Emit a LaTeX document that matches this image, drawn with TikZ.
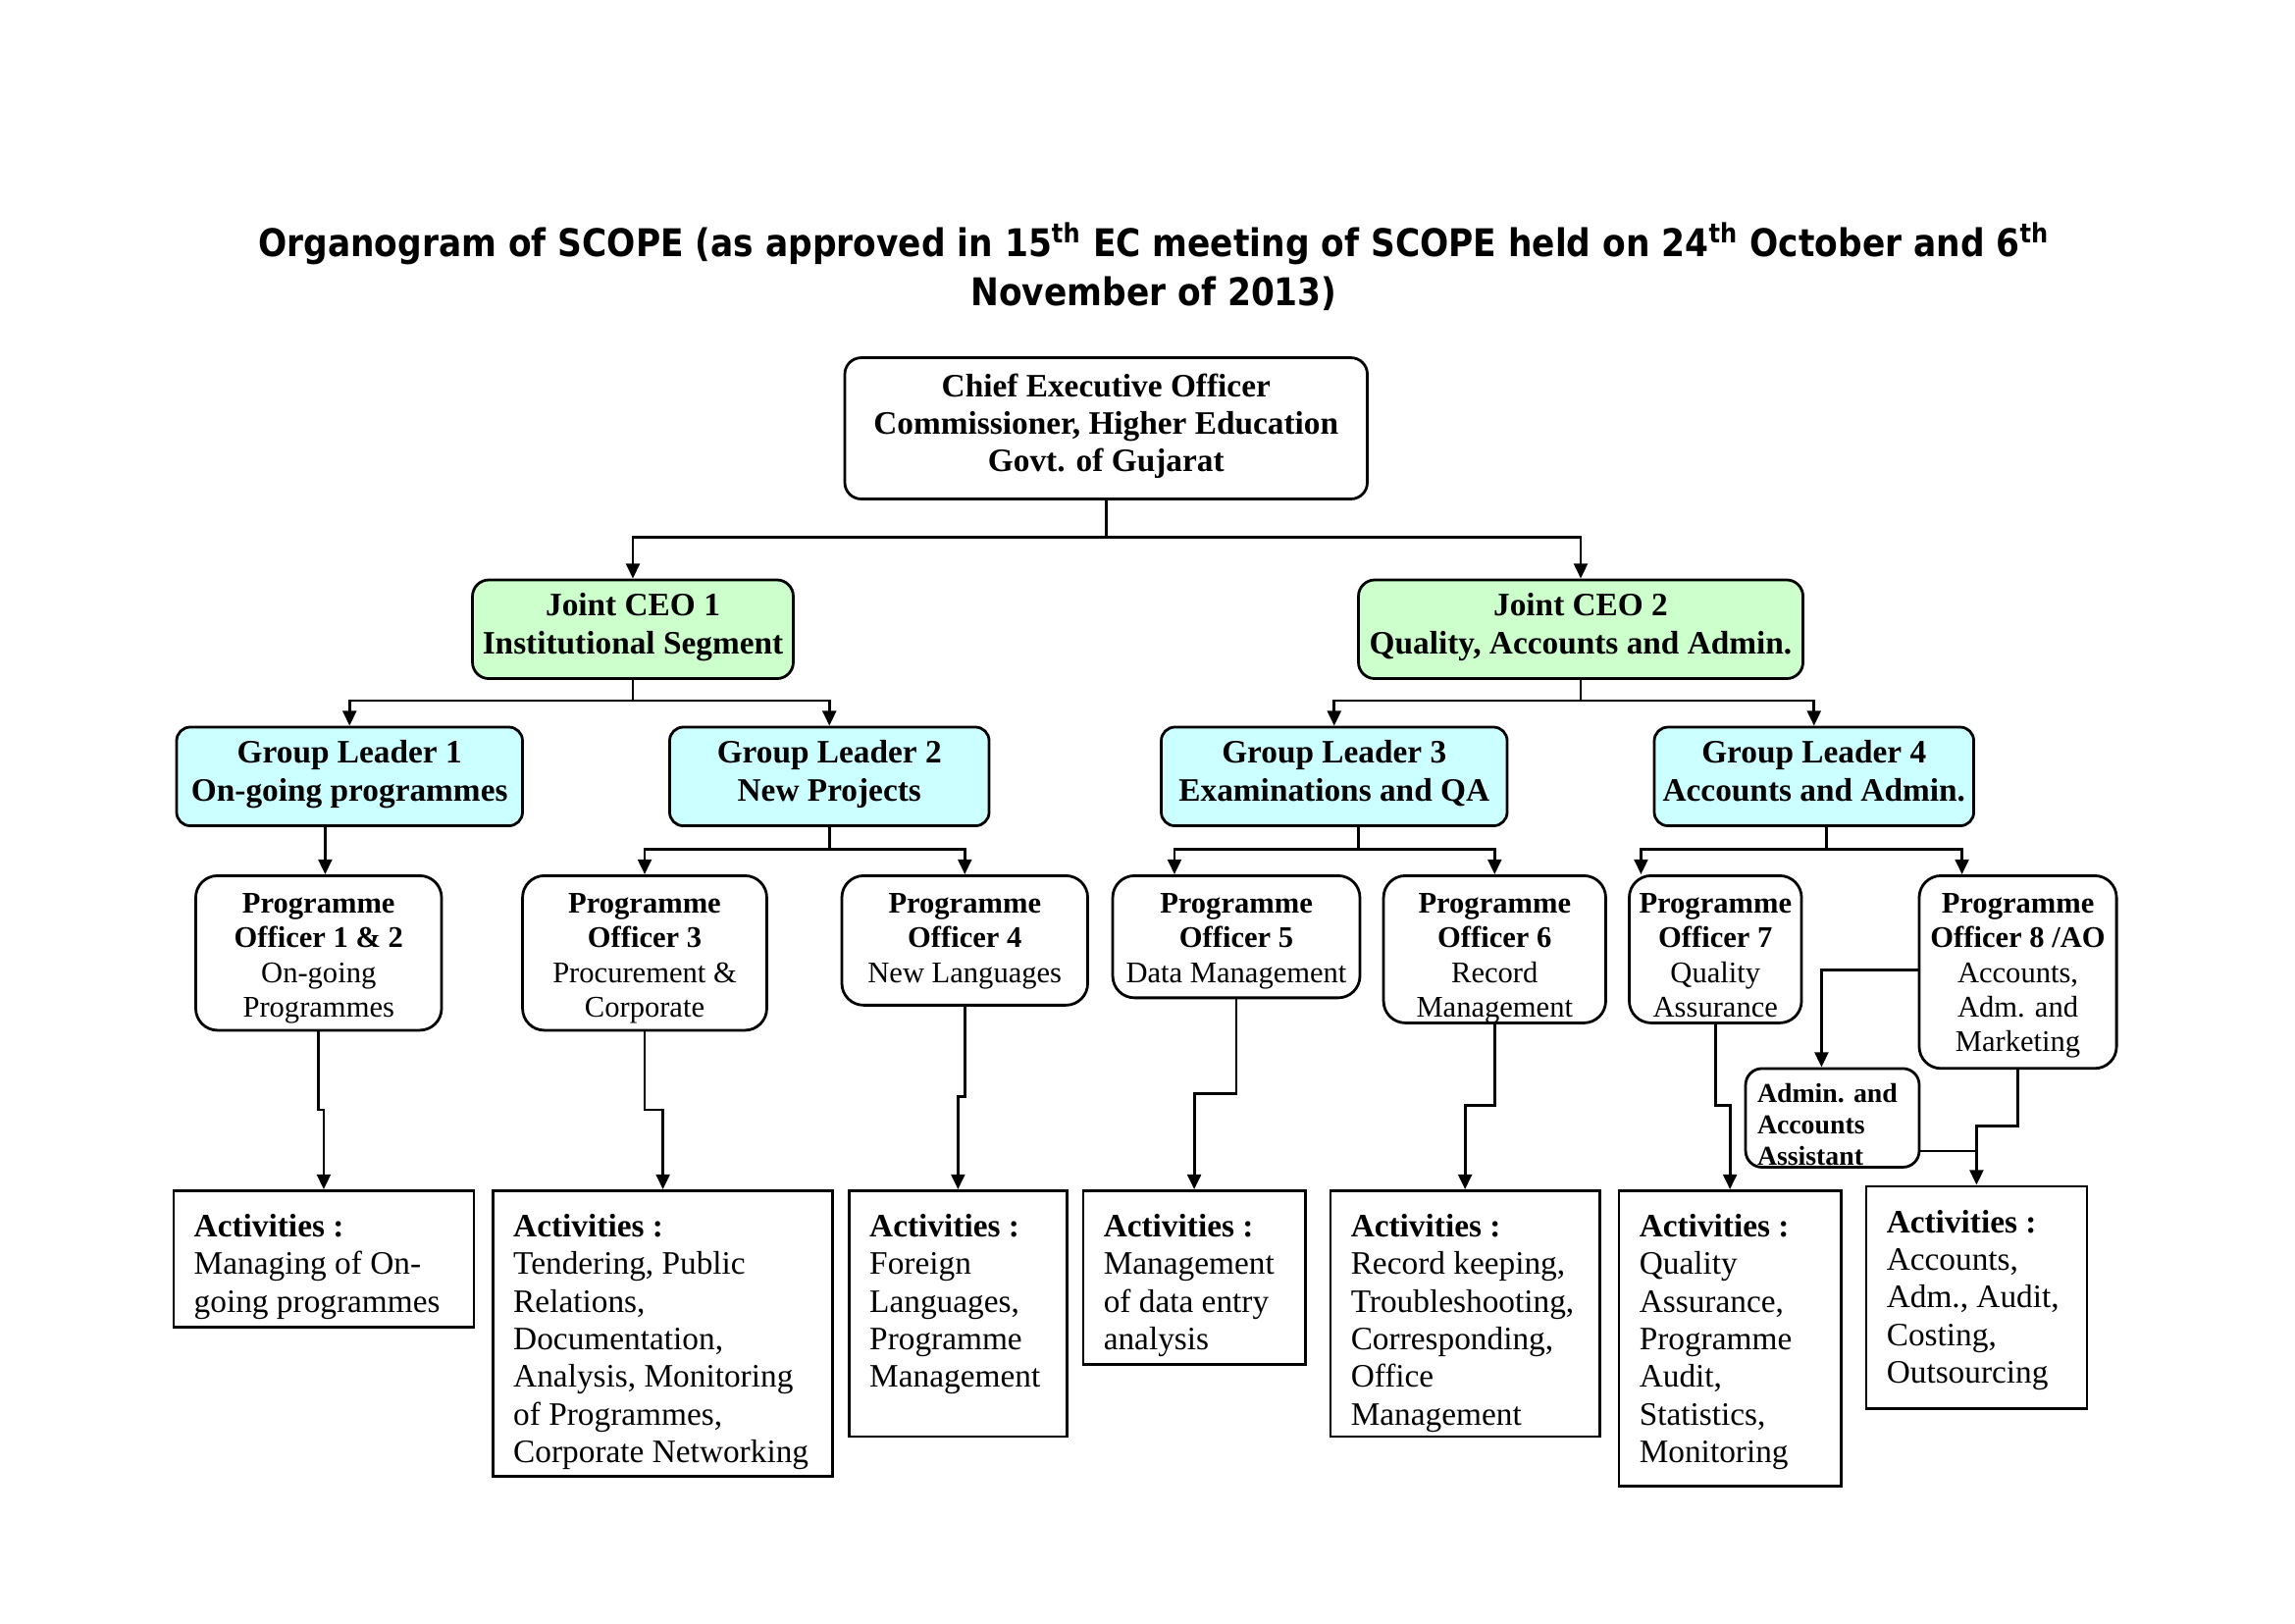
\documentclass[tikz,border=0pt]{standalone}
\usepackage{fontspec}
\setmainfont{Liberation Serif}
\newfontfamily\titlefont[FakeStretch=0.885]{DejaVu Sans}
\usetikzlibrary{arrows.meta}
\definecolor{jointgreen}{HTML}{CCFFCC}
\definecolor{groupcyan}{HTML}{CCFFFF}

\tikzset{
  frame/.style={rectangle, draw=black, line width=1pt, rounded corners=6pt},
  box/.style={frame, align=center, inner sep=1.5pt,
    execute at begin node=\strut, execute at end node=\strut, font=\fontsize{12}{13.8}\selectfont\bfseries},
  joint/.style={box, fill=jointgreen, minimum height=36.2pt, inner xsep=0.5pt},
  group/.style={box, fill=groupcyan, minimum height=36.2pt, rounded corners=5pt, inner xsep=0.5pt},
  officer/.style={frame, anchor=north, rounded corners=8pt, inner sep=0pt, font=\fontsize{11}{12.65}\selectfont},
  assist/.style={frame, inner xsep=4.3pt, inner ysep=0pt, font=\fontsize{10}{11.5}\selectfont\bfseries},
  activity/.style={rectangle, draw=black, line width=1pt, anchor=north west, inner xsep=7.5pt, inner ysep=6.5pt, font=\fontsize{12}{13.8}\selectfont},
  line/.style={line width=1pt},
  arr/.style={line, -{Triangle[length=5.5pt,width=5pt]}},
}
\newcommand{\potext}[3]{\parbox[t][#2][t]{#1}{\centering\rule{0pt}{13.8pt}#3}}
\newcommand{\acts}[3]{\parbox[t][#2][t]{#1}{\raggedright\rule{0pt}{10.5pt}\textbf{Activities :}\\#3}}

\begin{document}
\begin{tikzpicture}[x=0.54pt, y=-0.54pt]
\useasboundingbox (0,0) rectangle (1559.3,1102.7);

% title
\node[font=\titlefont\bfseries\fontsize{14}{17.8}\selectfont, align=center] (title) at (784,181)
  {Organogram of SCOPE (as approved in 15\textsuperscript{th} EC meeting of SCOPE held on 24\textsuperscript{th} October and 6\textsuperscript{th}\\November of 2013)};

% CEO and joint CEOs
\node[box, minimum width=191.7pt, minimum height=51.8pt] (ceo) at (751.5,291) {Chief Executive Officer\\Commissioner, Higher Education\\Govt. of Gujarat};
\node[joint, minimum width=117.7pt] (jc1) at (430,427.5) {Joint CEO 1\\Institutional Segment};
\node[joint, minimum width=163.1pt] (jc2) at (1074,427.5) {Joint CEO 2\\Quality, Accounts and Admin.};

% group leaders
\node[group, minimum width=126.9pt] (gl1) at (237.5,527.5) {Group Leader 1\\On-going programmes};
\node[group, minimum width=117.2pt] (gl2) at (563.5,527.5) {Group Leader 2\\New Projects};
\node[group, minimum width=126.9pt] (gl3) at (906.5,527.5) {Group Leader 3\\Examinations and QA};
\node[group, minimum width=117.2pt] (gl4) at (1232.5,527.5) {Group Leader 4\\Accounts and Admin.};

% programme officers
\node[officer] (po1) at (216.5,594) {\potext{90.2pt}{56.7pt}{\textbf{Programme}\\\textbf{Officer 1 \& 2}\\On-going\\Programmes}};
\node[officer] (po3) at (438,594) {\potext{89.6pt}{56.7pt}{\textbf{Programme}\\\textbf{Officer 3}\\Procurement \&\\Corporate}};
\node[officer] (po4) at (655.5,594) {\potext{90.2pt}{47.5pt}{\textbf{Programme}\\\textbf{Officer 4}\\New Languages}};
\node[officer] (po5) at (840,594) {\potext{90.7pt}{44.8pt}{\textbf{Programme}\\\textbf{Officer 5}\\Data Management}};
\node[officer] (po6) at (1015.5,594) {\potext{81.5pt}{54pt}{\textbf{Programme}\\\textbf{Officer 6}\\Record\\Management}};
\node[officer] (po7) at (1165.5,594) {\potext{63.2pt}{54pt}{\textbf{Programme}\\\textbf{Officer 7}\\Quality\\Assurance}};
\node[officer] (po8) at (1371,594) {\potext{72.4pt}{70.7pt}{\textbf{Programme}\\\textbf{Officer 8 /AO}\\Accounts,\\Adm. and\\Marketing}};
\node[assist, anchor=north] (adm) at (1245,725) {\parbox[t][36.2pt][t]{55.1pt}{\raggedright\rule{0pt}{12.4pt}Admin. and\\Accounts\\Assistant}};

% activities
\node[activity] (a1) at (117,808) {\acts{95.2pt}{37.2pt}{Managing of On-\\going programmes}};
\node[activity] (a2) at (334,808) {\acts{109.7pt}{91.8pt}{Tendering, Public\\Relations,\\Documentation,\\Analysis, Monitoring\\of Programmes,\\Corporate Networking}};
\node[activity] (a3) at (576,808) {\acts{64.9pt}{77.2pt}{Foreign\\Languages,\\Programme\\Management}};
\node[activity] (a4) at (735,808) {\acts{66.5pt}{50.7pt}{Management\\of data entry\\analysis}};
\node[activity] (a5) at (903,808) {\acts{83.8pt}{77.2pt}{Record keeping,\\Troubleshooting,\\Corresponding,\\Office\\Management}};
\node[activity] (a6) at (1099,808) {\acts{66.5pt}{95.5pt}{Quality\\Assurance,\\Programme\\Audit,\\Statistics,\\Monitoring}};
\node[activity] (a7) at (1267,805) {\acts{66pt}{68.5pt}{Accounts,\\Adm., Audit,\\Costing,\\Outsourcing}};

% CEO to joint CEOs
\coordinate (c0) at (ceo.south |- 0,365);
\draw[line] (ceo.south) -- (c0);
\draw[arr] (c0) -| (jc1.north);
\draw[arr] (c0) -| (jc2.north);

% joint CEOs to group leaders
\coordinate (j1) at (jc1.south |- 0,476);
\coordinate (j2) at (jc2.south |- 0,476);
\draw[line] (jc1.south) -- (j1);
\draw[arr] (j1) -| (gl1.north);
\draw[arr] (j1) -| (gl2.north);
\draw[line] (jc2.south) -- (j2);
\draw[arr] (j2) -| (gl3.north);
\draw[arr] (j2) -| (gl4.north);

% group leaders to programme officers
\draw[arr] ([xshift=2.4pt]po1.north |- gl1.south) -- ([xshift=2.4pt]po1.north);
\coordinate (g2) at (gl2.south |- 0,577);
\draw[line] (gl2.south) -- (g2);
\draw[arr] (g2) -| (po3.north);
\draw[arr] (g2) -| (po4.north);
\coordinate (g3) at (923,577);
\draw[line] (g3 |- gl3.south) -- (g3);
\draw[arr] (g3) -| ([xshift=-22.7pt]po5.north);
\draw[arr] (g3) -| (po6.north);
\coordinate (g4) at (1241,577);
\draw[line] (g4 |- gl4.south) -- (g4);
\draw[arr] (g4) -| ([xshift=-27.3pt]po7.north);
\draw[arr] (g4) -| ([xshift=-20.5pt]po8.north);

% programme officers to activities
\draw[arr] (po1.south) -- (po1.south |- 0,754) -| (a1.north);
\draw[arr] (po3.south) -- (po3.south |- 0,754) -| (a2.north);
\draw[arr] (po4.south) -- (po4.south |- 0,745) -| (a3.north);
\draw[arr] (po5.south) -- (po5.south |- 0,743) -| (a4.north);
\draw[arr] (po6.south) -- (po6.south |- 0,751) -| (a5.north);
\draw[arr] (po7.south) -- (po7.south |- 0,751) -| (a6.north);
\draw[arr] (po8.west |- 0,659) -| ([xshift=-4pt]adm.north);
\draw[arr] (po8.south) -- (po8.south |- 0,765) -| (a7.north);
\draw[line] (adm.east |- 0,782) -- (a7.north |- 0,782);
\end{tikzpicture}
\end{document}
